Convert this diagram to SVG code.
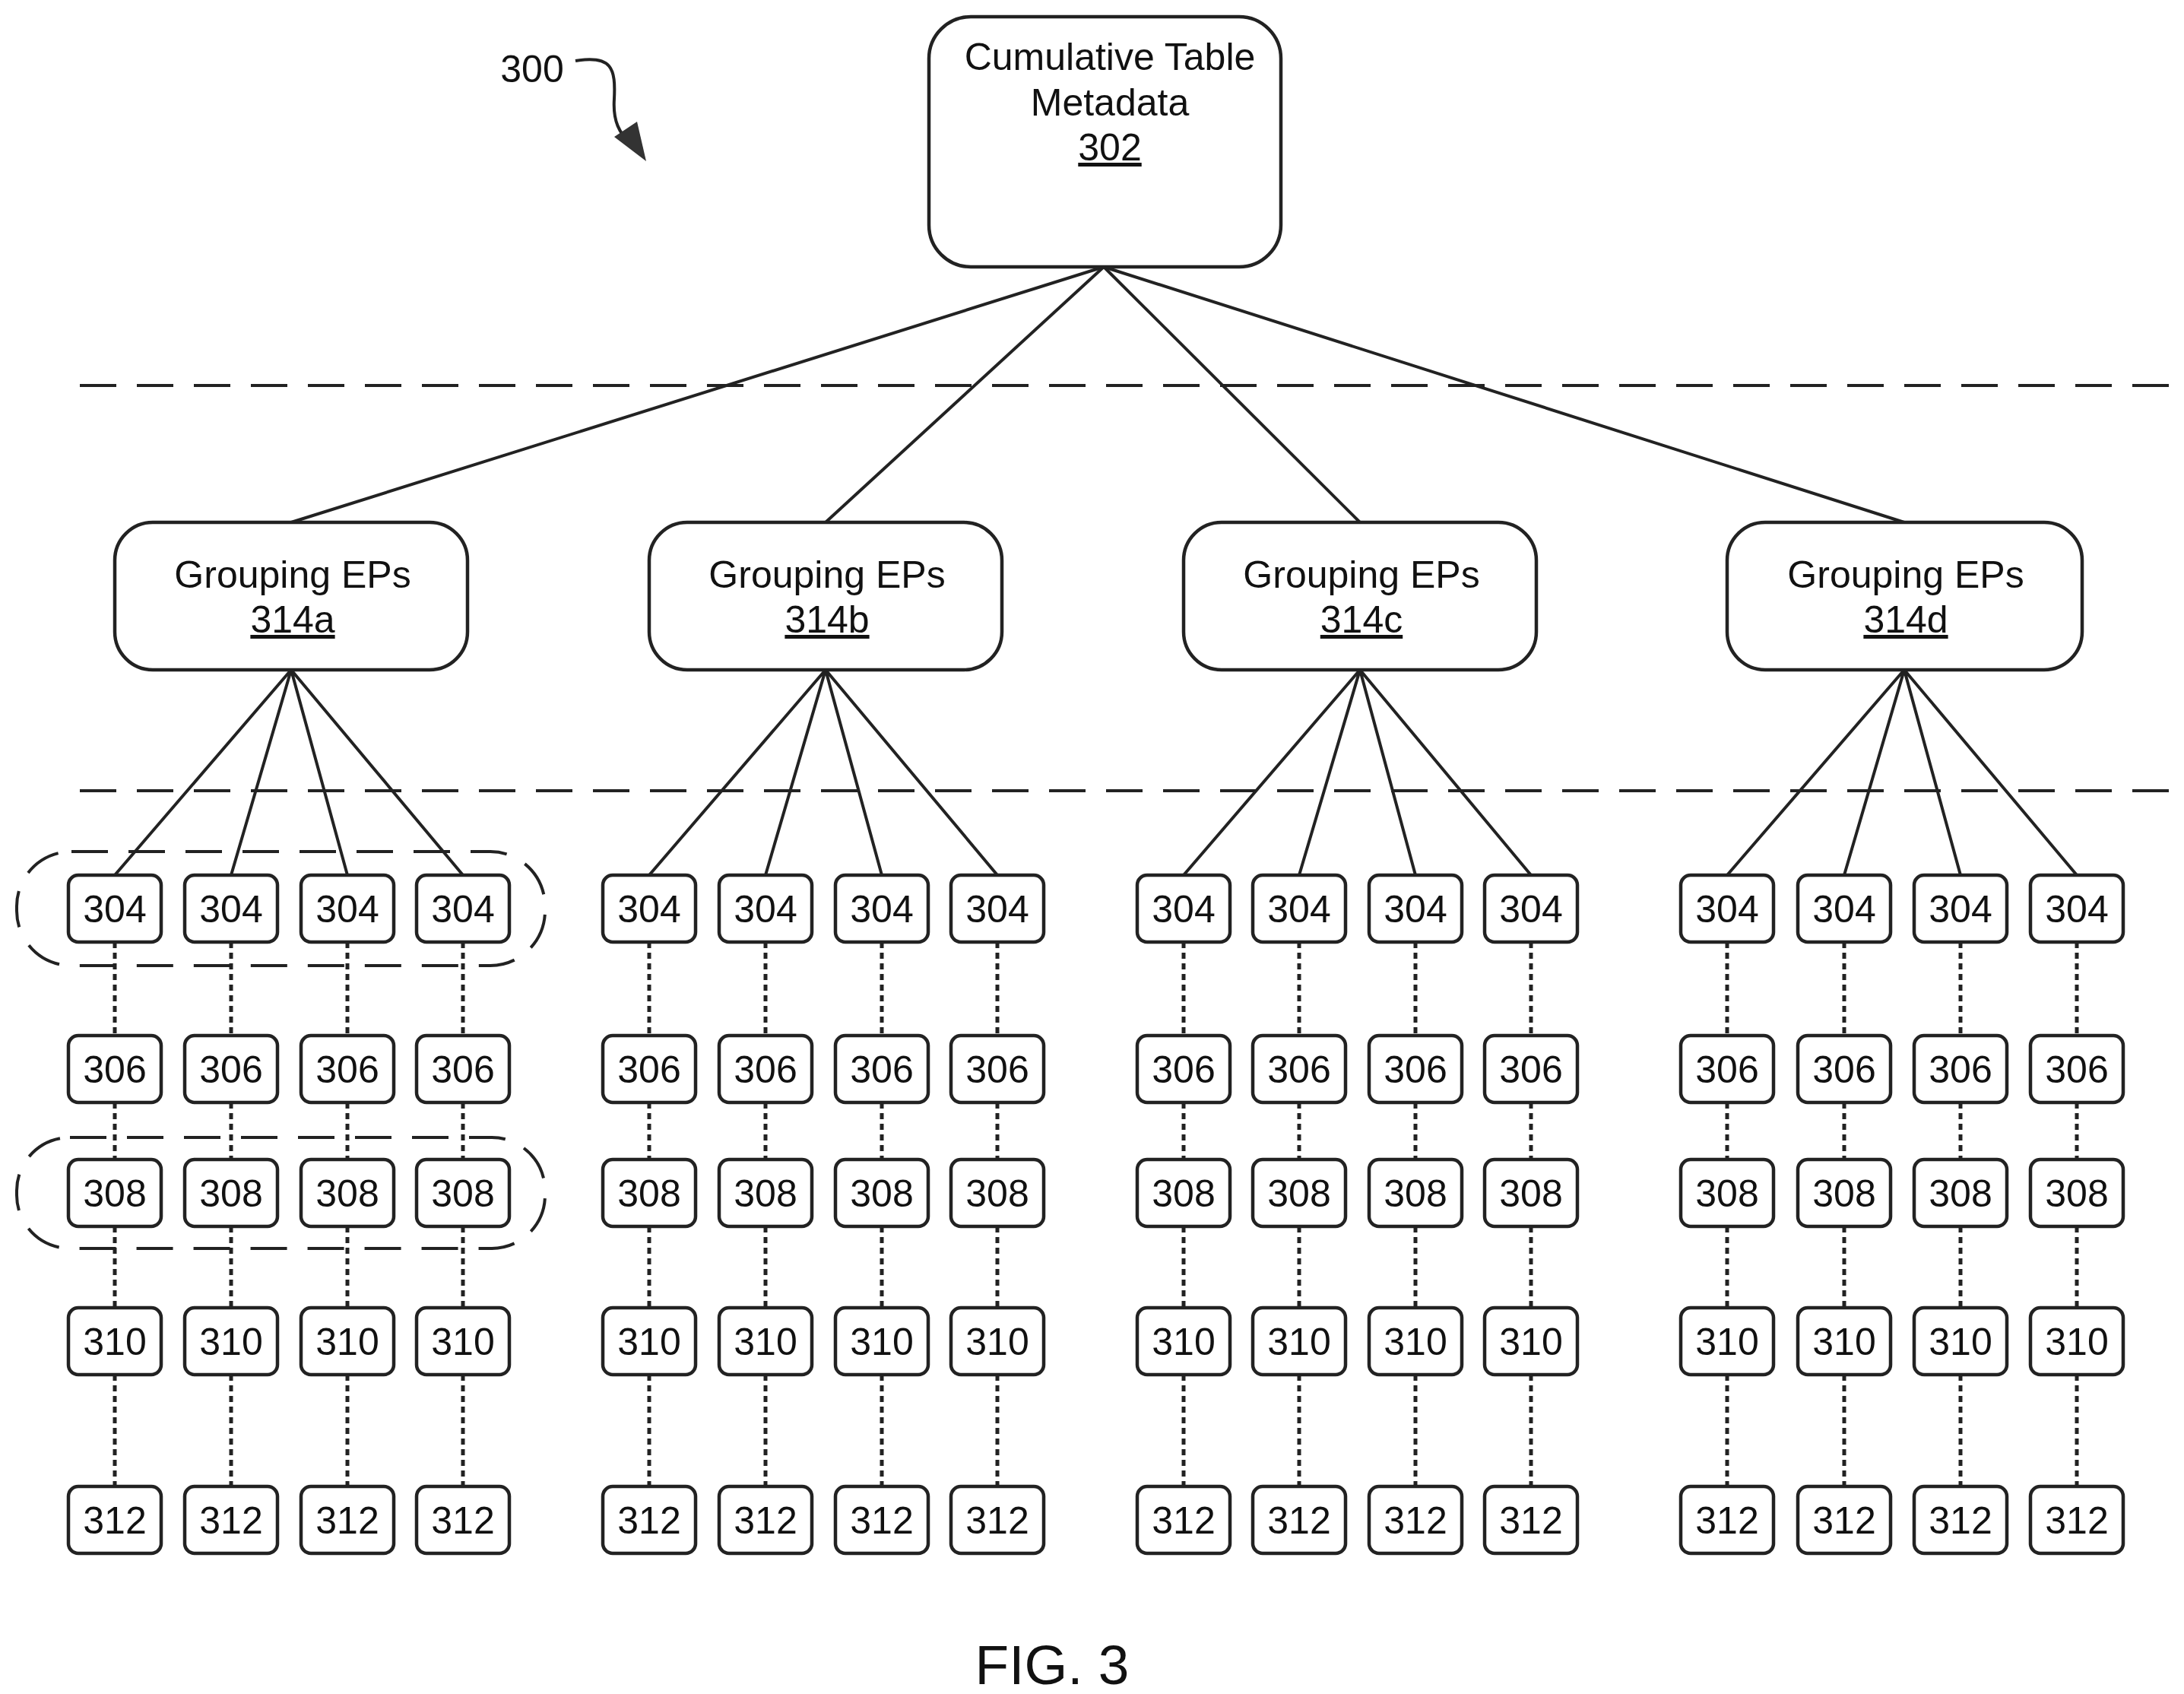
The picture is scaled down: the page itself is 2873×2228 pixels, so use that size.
<svg xmlns="http://www.w3.org/2000/svg" width="2873" height="2228" viewBox="0 0 2873 2228">
<style>
.b{fill:#fff;stroke:#222;stroke-width:4.5}
.t{font-family:"Liberation Sans",Arial,sans-serif;fill:#111;text-anchor:middle}
.n{font-size:50px}
.g{font-size:50px}
.s{stroke:#222;stroke-width:4;fill:none}
.d{stroke:#222;stroke-width:5;fill:none;stroke-dasharray:8 6}
.h{stroke:#222;stroke-width:4;fill:none;stroke-dasharray:48 27}
</style>
<defs>
<g id="cell"><rect class="b" x="-61" y="0" width="122" height="88" rx="13"/></g>
</defs>
<rect width="2873" height="2228" fill="#fff"/>
<g id="sep">
<line class="h" x1="105" y1="507" x2="2873" y2="507"/>
<line class="h" x1="105" y1="1040" x2="2873" y2="1040"/>
<rect class="h" x="22" y="1120" width="695" height="150" rx="72"/>
<rect class="h" x="22" y="1496" width="695" height="146" rx="70"/>
</g>
<g id="label300">
<text class="t n" x="700" y="108">300</text>
<path class="s" d="M757,80 C805,72 810,90 808,130 C806,160 815,175 830,190"/>
<polygon points="850,212 808,180 838,160" fill="#333"/>
</g>
<g id="connectors">
<line class="s" x1="1452" y1="351" x2="383" y2="687"/>
<line class="s" x1="1452" y1="351" x2="1086" y2="687"/>
<line class="s" x1="1452" y1="351" x2="1789" y2="687"/>
<line class="s" x1="1452" y1="351" x2="2505" y2="687"/>
<path class="s" d="M383,881L151,1151M383,881L304,1151M383,881L457,1151M383,881L609,1151
M1086,881L854,1151M1086,881L1007,1151M1086,881L1160,1151M1086,881L1312,1151
M1789,881L1557,1151M1789,881L1709,1151M1789,881L1862,1151M1789,881L2014,1151
M2505,881L2272,1151M2505,881L2426,1151M2505,881L2579,1151M2505,881L2732,1151"/>
<path class="d" d="M151,1239V1362M151,1450V1525M151,1613V1720M151,1808V1955
M304,1239V1362M304,1450V1525M304,1613V1720M304,1808V1955
M457,1239V1362M457,1450V1525M457,1613V1720M457,1808V1955
M609,1239V1362M609,1450V1525M609,1613V1720M609,1808V1955
M854,1239V1362M854,1450V1525M854,1613V1720M854,1808V1955
M1007,1239V1362M1007,1450V1525M1007,1613V1720M1007,1808V1955
M1160,1239V1362M1160,1450V1525M1160,1613V1720M1160,1808V1955
M1312,1239V1362M1312,1450V1525M1312,1613V1720M1312,1808V1955
M1557,1239V1362M1557,1450V1525M1557,1613V1720M1557,1808V1955
M1709,1239V1362M1709,1450V1525M1709,1613V1720M1709,1808V1955
M1862,1239V1362M1862,1450V1525M1862,1613V1720M1862,1808V1955
M2014,1239V1362M2014,1450V1525M2014,1613V1720M2014,1808V1955
M2272,1239V1362M2272,1450V1525M2272,1613V1720M2272,1808V1955
M2426,1239V1362M2426,1450V1525M2426,1613V1720M2426,1808V1955
M2579,1239V1362M2579,1450V1525M2579,1613V1720M2579,1808V1955
M2732,1239V1362M2732,1450V1525M2732,1613V1720M2732,1808V1955"/>
</g>
<g id="n302">
<rect class="b" x="1222" y="22" width="463" height="329" rx="55"/>
<text class="t g" x="1460" y="92">Cumulative Table</text>
<text class="t g" x="1460" y="152">Metadata</text>
<text class="t g" x="1460" y="211" text-decoration="underline">302</text>
</g>
<g id="n314a"><rect class="b" x="151" y="687" width="464" height="194" rx="50"/><text class="t g" x="385" y="773">Grouping EPs</text><text class="t g" x="385" y="832" text-decoration="underline">314a</text></g>
<g id="n314b"><rect class="b" x="854" y="687" width="464" height="194" rx="50"/><text class="t g" x="1088" y="773">Grouping EPs</text><text class="t g" x="1088" y="832" text-decoration="underline">314b</text></g>
<g id="n314c"><rect class="b" x="1557" y="687" width="464" height="194" rx="50"/><text class="t g" x="1791" y="773">Grouping EPs</text><text class="t g" x="1791" y="832" text-decoration="underline">314c</text></g>
<g id="n314d"><rect class="b" x="2272" y="687" width="467" height="194" rx="50"/><text class="t g" x="2507" y="773">Grouping EPs</text><text class="t g" x="2507" y="832" text-decoration="underline">314d</text></g>
<g id="cells">
<g id="c151"><use href="#cell" x="151" y="1151"/><text class="t n" x="151" y="1213">304</text><use href="#cell" x="151" y="1362"/><text class="t n" x="151" y="1424">306</text><use href="#cell" x="151" y="1525"/><text class="t n" x="151" y="1587">308</text><use href="#cell" x="151" y="1720"/><text class="t n" x="151" y="1782">310</text><use href="#cell" x="151" y="1955"/><text class="t n" x="151" y="2017">312</text></g>
<g id="c304"><use href="#cell" x="304" y="1151"/><text class="t n" x="304" y="1213">304</text><use href="#cell" x="304" y="1362"/><text class="t n" x="304" y="1424">306</text><use href="#cell" x="304" y="1525"/><text class="t n" x="304" y="1587">308</text><use href="#cell" x="304" y="1720"/><text class="t n" x="304" y="1782">310</text><use href="#cell" x="304" y="1955"/><text class="t n" x="304" y="2017">312</text></g>
<g id="c457"><use href="#cell" x="457" y="1151"/><text class="t n" x="457" y="1213">304</text><use href="#cell" x="457" y="1362"/><text class="t n" x="457" y="1424">306</text><use href="#cell" x="457" y="1525"/><text class="t n" x="457" y="1587">308</text><use href="#cell" x="457" y="1720"/><text class="t n" x="457" y="1782">310</text><use href="#cell" x="457" y="1955"/><text class="t n" x="457" y="2017">312</text></g>
<g id="c609"><use href="#cell" x="609" y="1151"/><text class="t n" x="609" y="1213">304</text><use href="#cell" x="609" y="1362"/><text class="t n" x="609" y="1424">306</text><use href="#cell" x="609" y="1525"/><text class="t n" x="609" y="1587">308</text><use href="#cell" x="609" y="1720"/><text class="t n" x="609" y="1782">310</text><use href="#cell" x="609" y="1955"/><text class="t n" x="609" y="2017">312</text></g>
<g id="c854"><use href="#cell" x="854" y="1151"/><text class="t n" x="854" y="1213">304</text><use href="#cell" x="854" y="1362"/><text class="t n" x="854" y="1424">306</text><use href="#cell" x="854" y="1525"/><text class="t n" x="854" y="1587">308</text><use href="#cell" x="854" y="1720"/><text class="t n" x="854" y="1782">310</text><use href="#cell" x="854" y="1955"/><text class="t n" x="854" y="2017">312</text></g>
<g id="c1007"><use href="#cell" x="1007" y="1151"/><text class="t n" x="1007" y="1213">304</text><use href="#cell" x="1007" y="1362"/><text class="t n" x="1007" y="1424">306</text><use href="#cell" x="1007" y="1525"/><text class="t n" x="1007" y="1587">308</text><use href="#cell" x="1007" y="1720"/><text class="t n" x="1007" y="1782">310</text><use href="#cell" x="1007" y="1955"/><text class="t n" x="1007" y="2017">312</text></g>
<g id="c1160"><use href="#cell" x="1160" y="1151"/><text class="t n" x="1160" y="1213">304</text><use href="#cell" x="1160" y="1362"/><text class="t n" x="1160" y="1424">306</text><use href="#cell" x="1160" y="1525"/><text class="t n" x="1160" y="1587">308</text><use href="#cell" x="1160" y="1720"/><text class="t n" x="1160" y="1782">310</text><use href="#cell" x="1160" y="1955"/><text class="t n" x="1160" y="2017">312</text></g>
<g id="c1312"><use href="#cell" x="1312" y="1151"/><text class="t n" x="1312" y="1213">304</text><use href="#cell" x="1312" y="1362"/><text class="t n" x="1312" y="1424">306</text><use href="#cell" x="1312" y="1525"/><text class="t n" x="1312" y="1587">308</text><use href="#cell" x="1312" y="1720"/><text class="t n" x="1312" y="1782">310</text><use href="#cell" x="1312" y="1955"/><text class="t n" x="1312" y="2017">312</text></g>
<g id="c1557"><use href="#cell" x="1557" y="1151"/><text class="t n" x="1557" y="1213">304</text><use href="#cell" x="1557" y="1362"/><text class="t n" x="1557" y="1424">306</text><use href="#cell" x="1557" y="1525"/><text class="t n" x="1557" y="1587">308</text><use href="#cell" x="1557" y="1720"/><text class="t n" x="1557" y="1782">310</text><use href="#cell" x="1557" y="1955"/><text class="t n" x="1557" y="2017">312</text></g>
<g id="c1709"><use href="#cell" x="1709" y="1151"/><text class="t n" x="1709" y="1213">304</text><use href="#cell" x="1709" y="1362"/><text class="t n" x="1709" y="1424">306</text><use href="#cell" x="1709" y="1525"/><text class="t n" x="1709" y="1587">308</text><use href="#cell" x="1709" y="1720"/><text class="t n" x="1709" y="1782">310</text><use href="#cell" x="1709" y="1955"/><text class="t n" x="1709" y="2017">312</text></g>
<g id="c1862"><use href="#cell" x="1862" y="1151"/><text class="t n" x="1862" y="1213">304</text><use href="#cell" x="1862" y="1362"/><text class="t n" x="1862" y="1424">306</text><use href="#cell" x="1862" y="1525"/><text class="t n" x="1862" y="1587">308</text><use href="#cell" x="1862" y="1720"/><text class="t n" x="1862" y="1782">310</text><use href="#cell" x="1862" y="1955"/><text class="t n" x="1862" y="2017">312</text></g>
<g id="c2014"><use href="#cell" x="2014" y="1151"/><text class="t n" x="2014" y="1213">304</text><use href="#cell" x="2014" y="1362"/><text class="t n" x="2014" y="1424">306</text><use href="#cell" x="2014" y="1525"/><text class="t n" x="2014" y="1587">308</text><use href="#cell" x="2014" y="1720"/><text class="t n" x="2014" y="1782">310</text><use href="#cell" x="2014" y="1955"/><text class="t n" x="2014" y="2017">312</text></g>
<g id="c2272"><use href="#cell" x="2272" y="1151"/><text class="t n" x="2272" y="1213">304</text><use href="#cell" x="2272" y="1362"/><text class="t n" x="2272" y="1424">306</text><use href="#cell" x="2272" y="1525"/><text class="t n" x="2272" y="1587">308</text><use href="#cell" x="2272" y="1720"/><text class="t n" x="2272" y="1782">310</text><use href="#cell" x="2272" y="1955"/><text class="t n" x="2272" y="2017">312</text></g>
<g id="c2426"><use href="#cell" x="2426" y="1151"/><text class="t n" x="2426" y="1213">304</text><use href="#cell" x="2426" y="1362"/><text class="t n" x="2426" y="1424">306</text><use href="#cell" x="2426" y="1525"/><text class="t n" x="2426" y="1587">308</text><use href="#cell" x="2426" y="1720"/><text class="t n" x="2426" y="1782">310</text><use href="#cell" x="2426" y="1955"/><text class="t n" x="2426" y="2017">312</text></g>
<g id="c2579"><use href="#cell" x="2579" y="1151"/><text class="t n" x="2579" y="1213">304</text><use href="#cell" x="2579" y="1362"/><text class="t n" x="2579" y="1424">306</text><use href="#cell" x="2579" y="1525"/><text class="t n" x="2579" y="1587">308</text><use href="#cell" x="2579" y="1720"/><text class="t n" x="2579" y="1782">310</text><use href="#cell" x="2579" y="1955"/><text class="t n" x="2579" y="2017">312</text></g>
<g id="c2732"><use href="#cell" x="2732" y="1151"/><text class="t n" x="2732" y="1213">304</text><use href="#cell" x="2732" y="1362"/><text class="t n" x="2732" y="1424">306</text><use href="#cell" x="2732" y="1525"/><text class="t n" x="2732" y="1587">308</text><use href="#cell" x="2732" y="1720"/><text class="t n" x="2732" y="1782">310</text><use href="#cell" x="2732" y="1955"/><text class="t n" x="2732" y="2017">312</text></g>
</g>
<text class="t" x="1384" y="2215" font-size="73">FIG. 3</text>
</svg>
